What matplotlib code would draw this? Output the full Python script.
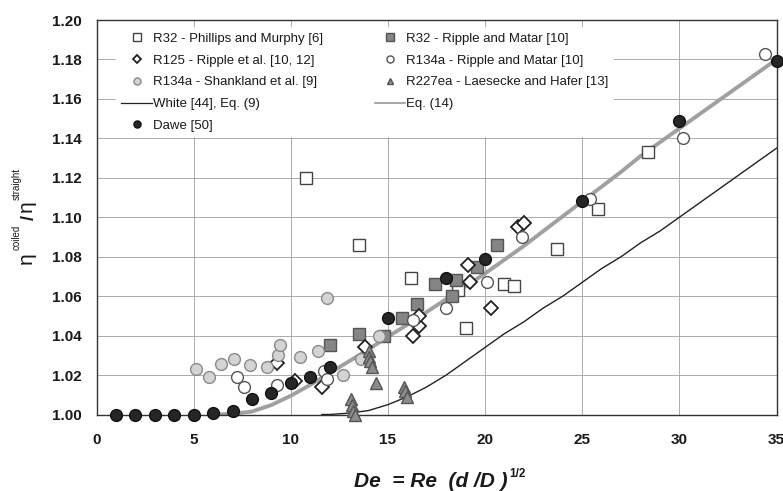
import matplotlib
matplotlib.use('Agg')
import matplotlib.pyplot as plt
from matplotlib.lines import Line2D

plt.rcParams['font.family'] = ['Liberation Sans', 'DejaVu Sans']

# ---------------- data ----------------
phillips_x = [10.8, 13.5, 16.2, 18.6, 19.0, 21.0, 21.5, 23.7, 25.8, 28.4]
phillips_y = [1.120, 1.086, 1.069, 1.063, 1.044, 1.066, 1.065, 1.084, 1.104, 1.133]

ripple32_x = [12.0, 13.5, 14.8, 15.7, 16.5, 17.4, 18.3, 18.5, 19.6, 20.6]
ripple32_y = [1.035, 1.041, 1.040, 1.049, 1.056, 1.066, 1.060, 1.068, 1.075, 1.086]

r125_x = [9.3, 10.2, 11.6, 13.8, 16.3, 16.6, 16.6, 19.1, 19.2, 20.3, 21.7, 22.0]
r125_y = [1.026, 1.017, 1.014, 1.034, 1.040, 1.045, 1.050, 1.076, 1.067, 1.054, 1.095, 1.097]

ripple134_x = [7.25, 7.6, 9.3, 11.7, 11.85, 16.3, 18.0, 20.1, 21.9, 25.4, 30.2, 34.4]
ripple134_y = [1.019, 1.014, 1.015, 1.022, 1.018, 1.048, 1.054, 1.067, 1.090, 1.109, 1.140, 1.183]

shank_x = [5.1, 5.8, 6.4, 7.1, 7.9, 8.75, 9.35, 9.45, 10.45, 11.4, 11.85, 12.7, 13.6, 14.55]
shank_y = [1.023, 1.019, 1.0255, 1.028, 1.025, 1.024, 1.030, 1.035, 1.029, 1.032, 1.059, 1.020, 1.028, 1.040]

r227_x = [13.1, 13.15, 13.2, 13.3, 14.0, 14.05, 14.1, 14.2, 14.4, 15.85, 15.9, 16.0]
r227_y = [1.008, 1.005, 1.002, 1.000, 1.032, 1.029, 1.027, 1.024, 1.016, 1.014, 1.012, 1.009]

dawe_x = [1, 2, 3, 4, 5, 6, 7, 8, 9, 10, 11, 12, 15, 18, 20, 25, 30, 35]
dawe_y = [1.000, 1.000, 1.000, 1.000, 1.000, 1.001, 1.002, 1.008, 1.011, 1.016, 1.019,
          1.024, 1.049, 1.069, 1.079, 1.108, 1.149, 1.179]

white_x = [11.6, 12, 13, 14, 15, 16, 17, 18, 19, 20, 21, 22, 23, 24, 25, 26, 27, 28,
           29, 30, 31, 32, 33, 34, 35]
white_y = [1.000, 1.000, 1.0007, 1.002, 1.005, 1.009, 1.014, 1.020, 1.027, 1.034, 1.041,
           1.047, 1.054, 1.060, 1.067, 1.074, 1.080, 1.087, 1.093, 1.100, 1.107, 1.114,
           1.121, 1.128, 1.135]

eq14_x = [6, 7, 8, 9, 10, 11, 12, 13, 14, 15, 16, 17, 18, 19, 20, 21, 22, 23, 24, 25,
          26, 27, 28, 29, 30, 31, 32, 33, 34, 35]
eq14_y = [1.000, 1.0003, 1.0015, 1.0048, 1.0095, 1.015, 1.021, 1.027, 1.033, 1.0395,
          1.0455, 1.052, 1.0585, 1.065, 1.0715, 1.0785, 1.0855, 1.093, 1.1005, 1.108,
          1.1155, 1.123, 1.131, 1.138, 1.145, 1.152, 1.159, 1.166, 1.173, 1.180]

x_ticks = [0, 5, 10, 15, 20, 25, 30, 35]
y_ticks = [1.00, 1.02, 1.04, 1.06, 1.08, 1.10, 1.12, 1.14, 1.16, 1.18, 1.20]

labels = ['R32 - Phillips and Murphy [6]', 'R125 - Ripple et al. [10, 12]',
          'R134a - Shankland et al. [9]', 'White [44], Eq. (9)', 'Dawe [50]',
          'R32 - Ripple and Matar [10]', 'R134a - Ripple and Matar [10]',
          'R227ea - Laesecke and Hafer [13]', 'Eq. (14)']

# ---------------- figure ----------------
W, H = 783, 491
fig = plt.figure(figsize=(W / 100, H / 100), dpi=100)
ax = fig.add_axes([96.5 / W, 1 - 414.5 / H, (776.5 - 96.5) / W, (414.5 - 20) / H])

ax.set_xlim(0, 35)
ax.set_ylim(1.0, 1.2)
ax.set_xticks(x_ticks)
ax.set_yticks(y_ticks)
ax.set_xticklabels([str(v) for v in x_ticks])
ax.set_yticklabels(['%.2f' % v for v in y_ticks])
ax.tick_params(axis='both', length=0, labelsize=11, colors='#1a1a1a')
ax.tick_params(axis='x', pad=13)
ax.tick_params(axis='y', pad=10.5)
for lab in ax.get_xticklabels() + ax.get_yticklabels():
    lab.set_fontweight('bold')
ax.grid(True, color='#ababab', lw=0.7)
ax.set_axisbelow(True)
for s in ax.spines.values():
    s.set_color('#333333')
    s.set_linewidth(1.0)

# lines
l_white, = ax.plot(white_x, white_y, color='#222222', lw=1.0, zorder=2)
l_eq14, = ax.plot(eq14_x, eq14_y, color='#a0a0a0', lw=2.8, zorder=2,
                  solid_capstyle='butt')

kw = dict(ls='none', clip_on=False, zorder=4)
h_phil, = ax.plot(phillips_x, phillips_y, marker='s', ms=8.5, mfc='white', mec='#444444', mew=1.0, **kw)
h_r32, = ax.plot(ripple32_x, ripple32_y, marker='s', ms=8.5, mfc='#858585', mec='#555555', mew=1.0, **kw)
h_r125, = ax.plot(r125_x, r125_y, marker='D', ms=7.5, mfc='white', mec='#222222', mew=1.3, **kw)
h_r134, = ax.plot(ripple134_x, ripple134_y, marker='o', ms=8.5, mfc='white', mec='#555555', mew=1.0, **kw)
h_shank, = ax.plot(shank_x, shank_y, marker='o', ms=8.5, mfc='#d4d4d4', mec='#8a8a8a', mew=1.0, **kw)
h_r227, = ax.plot(r227_x, r227_y, marker='^', ms=8, mfc='#8c8c8c', mec='#555555', mew=1.0, **kw)
h_dawe, = ax.plot(dawe_x, dawe_y, marker='o', ms=8.5, mfc='#262626', mec='#111111', mew=1.0, **kw)

lw_wh = Line2D([], [], color='#222222', lw=0.9)
lw_eq = Line2D([], [], color='#9a9a9a', lw=1.2)
leg_handles = [h_phil, h_r125, h_shank, lw_wh, h_dawe, h_r32, h_r134, h_r227, lw_eq]
leg = ax.legend(leg_handles, labels, loc='upper left', bbox_to_anchor=(0.029, 0.981),
                ncol=2, frameon=True, fancybox=False, edgecolor='none', facecolor='white',
                framealpha=1, fontsize=9.5, handlelength=2.3, handletextpad=0.1,
                columnspacing=3.9, labelspacing=0.72, borderpad=0.4, borderaxespad=0,
                markerscale=0.6, numpoints=1)
for t in leg.get_texts():
    t.set_color('#1a1a1a')

fig.canvas.draw()
r = fig.canvas.get_renderer()


def px(x, y):
    return x / W, 1 - y / H


# y label built from pieces, reading bottom to top
pieces = [('η', 15, 'normal', 32, 0),
          ('coiled', 7, 'normal', 20, 2),
          ('/', 13, 'bold', 34, 5),
          ('η', 15, 'normal', 32, 3),
          ('straight', 7, 'normal', 20, 0)]
ycur = 264
for txt, fs, fw, xb, gap in pieces:
    ycur -= gap
    t = fig.text(*px(xb, ycur), txt, fontsize=fs, fontweight=fw, rotation=90,
                 rotation_mode='anchor', ha='left', va='baseline', color='#1a1a1a')
    bb = t.get_window_extent(r)
    ycur -= bb.height

# x label with superscript
t1 = fig.text(*px(0, 487), 'De  = Re  (d /D )', fontsize=15, fontweight='bold',
              fontstyle='italic', ha='left', va='baseline', color='#1a1a1a')
t2 = fig.text(*px(0, 477), '1/2', fontsize=8.5, fontweight='bold',
              ha='left', va='baseline', color='#1a1a1a')
b1 = t1.get_window_extent(r)
b2 = t2.get_window_extent(r)
total = b1.width + b2.width + 1
x0 = 440 - total / 2
t1.set_x(x0 / W)
t2.set_x((x0 + b1.width + 1) / W)

fig.savefig('out.png', dpi=100)
